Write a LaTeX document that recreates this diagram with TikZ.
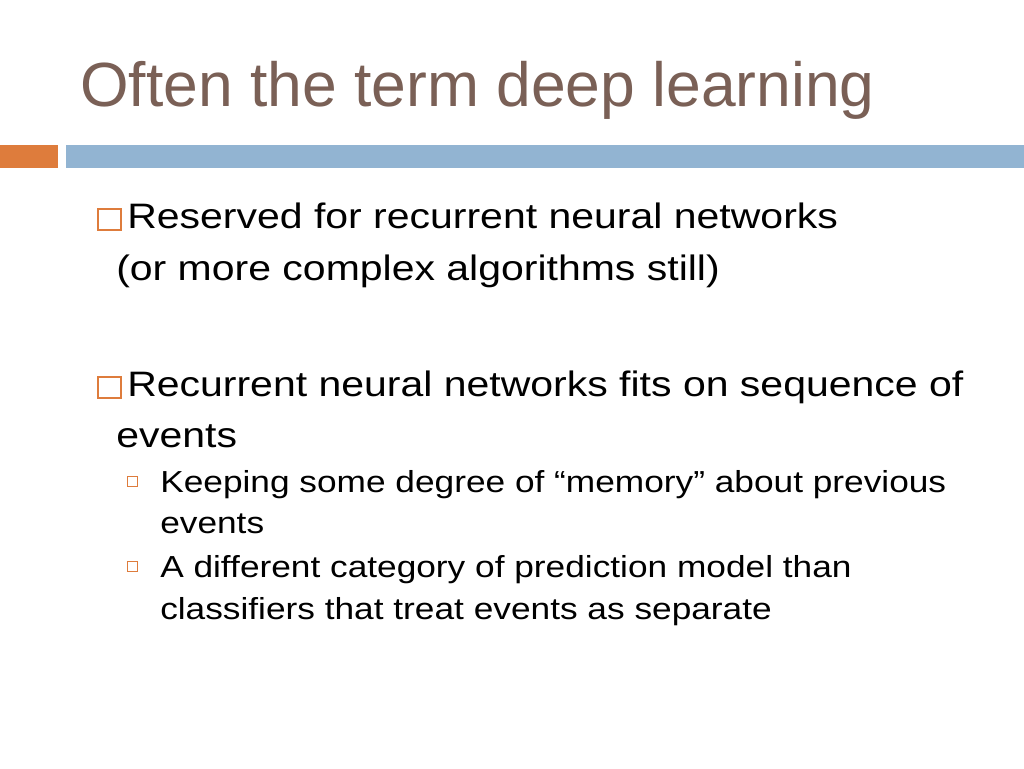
\documentclass[tikz,border=0pt]{standalone}
\usepackage{fontspec}
\setmainfont{Liberation Sans}
\newfontfamily\wide[FakeStretch=1.16]{Liberation Sans}
\definecolor{titlec}{RGB}{122,96,86}
\definecolor{orangec}{RGB}{222,124,60}
\definecolor{bluec}{RGB}{146,180,210}
\begin{document}
\begin{tikzpicture}[x=0.75pt,y=-0.75pt,
  txt/.style={anchor=base west,inner sep=0,font=\wide\fontsize{26.5}{30}\selectfont},
  sub/.style={anchor=base west,inner sep=0,font=\wide\fontsize{22.8}{26}\selectfont},
  box/.style={draw=orangec,line width=1pt},
  sbox/.style={draw=orangec,line width=0.6pt}]
\useasboundingbox (0,0) rectangle (1024,768);
\fill[white] (0,0) rectangle (1024,768);
\node[anchor=base west,inner sep=0,text=titlec,font=\fontsize{46.8}{50}\selectfont] (title) at (80,106) {Often the term deep learning};
\fill[orangec] (0,145) rectangle (58,168);
\fill[bluec] (66,145) rectangle (1024,168);
\draw[box] (98,209) rectangle (121,230);
\node[txt] (b1) at (127,228) {Reserved for recurrent neural networks};
\node[txt] (b1b) at (116,280) {(or more complex algorithms still)};
\draw[box] (98,377) rectangle (121,398);
\node[txt] (b2) at (127,396) {Recurrent neural networks fits on sequence of};
\node[txt] (b2b) at (116,447) {events};
\draw[sbox] (127,476) rectangle (137,486);
\node[sub] (s1) at (160,492) {Keeping some degree of “memory” about previous};
\node[sub] (s1b) at (160,533) {events};
\draw[sbox] (127,561) rectangle (137,571);
\node[sub] (s2) at (160,577) {A different category of prediction model than};
\node[sub] (s2b) at (160,619) {classifiers that treat events as separate};
\end{tikzpicture}
\end{document}
